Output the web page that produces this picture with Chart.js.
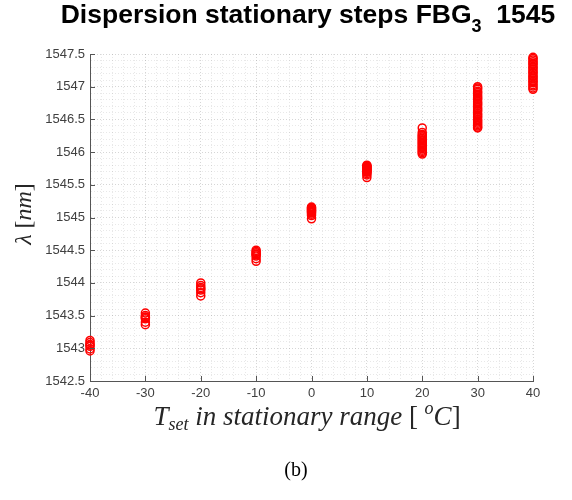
<!DOCTYPE html>
<html>
<head>
<meta charset="utf-8">
<script src="https://cdn.jsdelivr.net/npm/chart.js@4"></script>
<style>
  body { margin: 0; background: #fff; }
  canvas { display: block; }
</style>
</head>
<body>
<canvas id="fbgChart" width="572" height="500"></canvas>
<script>
// temperature steps and measured wavelengths (nm) at each step
const temps = [-40, -30, -20, -10, 0, 10, 20, 30, 40];
const lamM40 = [1542.96, 1542.99, 1543.03, 1543.05, 1543.06, 1543.09, 1543.12];
const lamM30 = [1543.36, 1543.40, 1543.45, 1543.47, 1543.48, 1543.50, 1543.54];
const lamM20 = [1543.80, 1543.85, 1543.89, 1543.91, 1543.93, 1543.96, 1544.00];
const lamM10 = [1544.33, 1544.37, 1544.41, 1544.43, 1544.44, 1544.46, 1544.48, 1544.50];
const lam0 = [1544.98, 1545.03, 1545.05, 1545.07, 1545.08, 1545.09, 1545.10, 1545.11,
              1545.12, 1545.13, 1545.14, 1545.15, 1545.16];
const lam10 = [1545.61, 1545.65, 1545.67, 1545.69, 1545.70, 1545.71, 1545.72, 1545.73,
               1545.74, 1545.75, 1545.76, 1545.77, 1545.78, 1545.79, 1545.80];
const lam20 = [1546.37, 1546.30, 1546.27, 1546.25, 1546.23, 1546.21, 1546.19, 1546.17,
               1546.15, 1546.13, 1546.11, 1546.09, 1546.07, 1546.05, 1546.03, 1546.01,
               1545.99, 1545.97];
const lam30 = [1547.00, 1546.98, 1546.96, 1546.93, 1546.91, 1546.89, 1546.86, 1546.84,
               1546.82, 1546.80, 1546.77, 1546.75, 1546.73, 1546.71, 1546.68, 1546.66,
               1546.64, 1546.62, 1546.59, 1546.57, 1546.55, 1546.53, 1546.50, 1546.48,
               1546.46, 1546.44, 1546.42, 1546.40, 1546.38, 1546.37];
const lam40 = [1547.45, 1547.43, 1547.41, 1547.38, 1547.36, 1547.34, 1547.31, 1547.29,
               1547.27, 1547.24, 1547.22, 1547.20, 1547.17, 1547.15, 1547.13, 1547.10,
               1547.08, 1547.06, 1547.03, 1547.01, 1546.98, 1546.96];
const lamByStep = [lamM40, lamM30, lamM20, lamM10, lam0, lam10, lam20, lam30, lam40];

// labelled ticks
const xTicks = [-40, -30, -20, -10, 0, 10, 20, 30, 40];
const yTicks = [1542.5, 1543, 1543.5, 1544, 1544.5, 1545, 1545.5, 1546, 1546.5, 1547, 1547.5];

const points = [];
temps.forEach((t, i) => lamByStep[i].forEach(v => points.push({ x: t, y: v })));

const tickFont = { family: '"Liberation Sans", Arial, sans-serif', size: 13 };
const isMajor = (list, v) => list.some(m => Math.abs(m - v) < 1e-6);

// draw a line of text made of several runs (sub/superscripts), centred on cx
function drawRuns(ctx, runs, cx, base) {
  let total = 0;
  runs.forEach(r => { ctx.font = r.f; r.w = ctx.measureText(r.t).width; total += r.w; });
  let x = cx - total / 2;
  ctx.textAlign = 'left';
  ctx.textBaseline = 'alphabetic';
  runs.forEach(r => { ctx.font = r.f; ctx.fillText(r.t, x, base + (r.dy || 0)); x += r.w; });
}

const extras = {
  id: 'extras',
  afterDraw(chart) {
    const { ctx, chartArea: a, scales: { x, y } } = chart;
    ctx.save();
    // tick marks pointing into the plot
    ctx.strokeStyle = '#555';
    ctx.lineWidth = 1;
    ctx.beginPath();
    xTicks.forEach(v => {
      const px = Math.round(x.getPixelForValue(v)) + 0.5;
      ctx.moveTo(px, a.bottom); ctx.lineTo(px, a.bottom - 5);
    });
    yTicks.forEach(v => {
      const py = Math.round(y.getPixelForValue(v)) + 0.5;
      ctx.moveTo(a.left, py); ctx.lineTo(a.left + 5, py);
    });
    ctx.stroke();

    const sans = '"Liberation Sans", Arial, sans-serif';
    const serif = '"Liberation Serif", "Times New Roman", serif';

    // title
    ctx.fillStyle = '#000';
    drawRuns(ctx, [
      { t: 'Dispersion stationary steps FBG', f: 'bold 26.5px ' + sans },
      { t: '3', f: 'bold 18px ' + sans, dy: 9 },
      { t: '  1545', f: 'bold 26.5px ' + sans }
    ], 308, 23);

    // x axis label
    ctx.fillStyle = '#262626';
    drawRuns(ctx, [
      { t: 'T', f: 'italic 27px ' + serif },
      { t: 'set', f: 'italic 18px ' + serif, dy: 5 },
      { t: ' in stationary range ', f: 'italic 27px ' + serif },
      { t: '[ ', f: '27px ' + serif },
      { t: 'o', f: 'italic 18px ' + serif, dy: -11 },
      { t: 'C', f: 'italic 27px ' + serif },
      { t: ']', f: '27px ' + serif }
    ], 307, 425);

    // y axis label
    ctx.save();
    ctx.translate(31, 214);
    ctx.rotate(-Math.PI / 2);
    drawRuns(ctx, [
      { t: 'λ', f: 'italic 24px ' + serif },
      { t: ' [', f: '24px ' + serif },
      { t: 'nm', f: 'italic 24px ' + serif },
      { t: ']', f: '24px ' + serif }
    ], 0, 0);
    ctx.restore();

    // panel caption
    ctx.fillStyle = '#000';
    drawRuns(ctx, [{ t: '(b)', f: '20px ' + serif }], 296, 476);
    ctx.restore();
  }
};

const gridColor = list => c => (c.tick && isMajor(list, c.tick.value)) ? 'rgba(0,0,0,0.16)' : 'rgba(0,0,0,0.09)';

new Chart(document.getElementById('fbgChart').getContext('2d'), {
  type: 'scatter',
  data: {
    datasets: [{
      label: 'FBG3',
      data: points,
      clip: false,
      pointStyle: 'circle',
      pointRadius: 4,
      pointBorderWidth: 1.5,
      borderColor: '#ff0000',
      backgroundColor: 'rgba(0,0,0,0)'
    }]
  },
  options: {
    responsive: false,
    animation: false,
    layout: { padding: { left: 0, right: 39, top: 54, bottom: 0 } },
    plugins: { legend: { display: false }, tooltip: { enabled: false } },
    scales: {
      x: {
        type: 'linear',
        min: -40,
        max: 40,
        afterFit: s => { s.height = 119; },
        ticks: {
          stepSize: 2,
          autoSkip: false,
          maxRotation: 0,
          padding: 5,
          color: '#404040',
          font: tickFont,
          callback: v => isMajor(xTicks, v) ? String(v) : ''
        },
        grid: { drawTicks: false, color: gridColor(xTicks), lineWidth: 1 },
        border: { display: true, color: '#555', width: 1, dash: [1, 2] }
      },
      y: {
        min: 1542.5,
        max: 1547.5,
        afterFit: s => { s.width = 90; },
        ticks: {
          stepSize: 0.1,
          autoSkip: false,
          padding: 5,
          color: '#404040',
          font: tickFont,
          callback: v => isMajor(yTicks, v) ? String(Number(v.toFixed(1))) : ''
        },
        grid: { drawTicks: false, color: gridColor(yTicks), lineWidth: 1 },
        border: { display: true, color: '#555', width: 1, dash: [1, 2] }
      }
    }
  },
  plugins: [extras]
});
</script>
</body>
</html>
